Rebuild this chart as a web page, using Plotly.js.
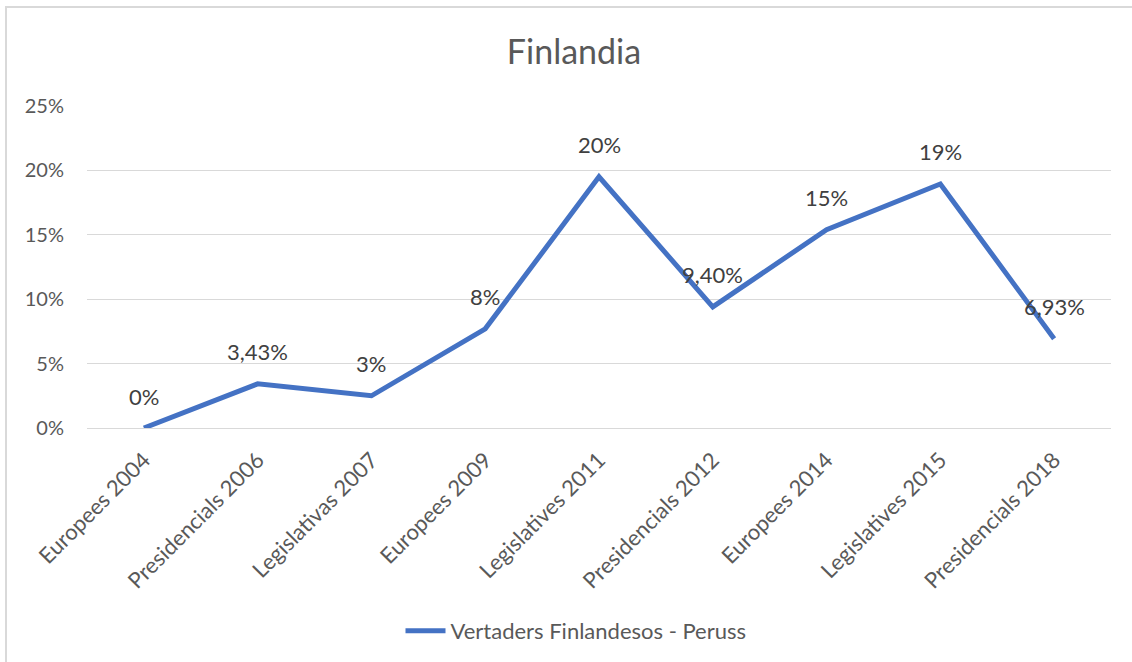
<!DOCTYPE html>
<html>
<head>
<meta charset="utf-8">
<script src="https://cdn.plot.ly/plotly-3.0.1.min.js"></script>
<style>
html, body { margin: 0; padding: 0; background: #fff; }
#frame { position: absolute; left: 5px; top: 6px; width: 1127px; height: 656px; border-top: 2px solid #d9d9d9; border-left: 2px solid #d9d9d9; pointer-events: none; z-index: 5; }
#chart { position: absolute; left: 0; top: 0; width: 1132px; height: 662px; }
</style>
</head>
<body>
<div id="chart"></div>
<div id="frame"></div>
<script>
const categories = ["Europees 2004", "Presidencials 2006", "Legislativas 2007", "Europees 2009", "Legislatives 2011", "Presidencials 2012", "Europees 2014", "Legislatives 2015", "Presidencials 2018"];
const values = [0, 3.43, 2.5, 7.7, 19.5, 9.4, 15.4, 18.95, 6.93];
const valueLabels = ["0%", "3,43%", "3%", "8%", "20%", "9,40%", "15%", "19%", "6,93%"];
const seriesName = "Vertaders Finlandesos - Peruss";
const chartTitle = "Finlandia";
const yTicks = [0, 5, 10, 15, 20, 25];

const FONT = "Lato, 'Open Sans', sans-serif";

const trace = {
  type: "scatter",
  mode: "lines",
  x: categories,
  y: values,
  name: seriesName,
  line: { color: "#4472C4", width: 5 },
  showlegend: true,
  hoverinfo: "skip"
};

const annotations = categories.map((c, i) => ({
  x: c, y: values[i], xref: "x", yref: "y",
  text: valueLabels[i], showarrow: false, yshift: 32,
  font: { family: FONT, size: 22, color: "#404040" }
}));

const layout = {
  width: 1132, height: 662,
  margin: { l: 87, r: 21, t: 106, b: 234 },
  paper_bgcolor: "#ffffff",
  plot_bgcolor: "#ffffff",
  font: { family: FONT, size: 20, color: "#595959" },
  title: {
    text: chartTitle,
    font: { family: FONT, size: 34, color: "#595959" },
    x: 574 / 1132, xref: "container", xanchor: "center",
    y: 1 - 52 / 662, yref: "container", yanchor: "middle"
  },
  xaxis: {
    type: "category",
    range: [-0.5, categories.length - 0.5],
    tickangle: -45,
    showgrid: false,
    zeroline: false,
    showline: false,
    ticks: "",
    ticklabelstandoff: 14,
    tickfont: { family: FONT, size: 22, color: "#595959" }
  },
  yaxis: {
    range: [0, 25],
    tickvals: yTicks,
    ticktext: yTicks.map(v => v + "%"),
    showgrid: true,
    gridcolor: "#d9d9d9",
    gridwidth: 1,
    zeroline: true,
    zerolinecolor: "#d9d9d9",
    zerolinewidth: 1,
    showline: false,
    ticks: "",
    ticklabelstandoff: 22,
    tickfont: { family: FONT, size: 20, color: "#595959" }
  },
  showlegend: true,
  legend: {
    orientation: "h",
    x: 576 / 1132, xref: "container", xanchor: "center",
    y: 1 - 631 / 662, yref: "container", yanchor: "middle",
    font: { family: FONT, size: 22, color: "#595959" },
    itemwidth: 40
  },
  annotations: annotations
};

Plotly.newPlot("chart", [trace], layout, { displayModeBar: false, staticPlot: true });
</script>
</body>
</html>
